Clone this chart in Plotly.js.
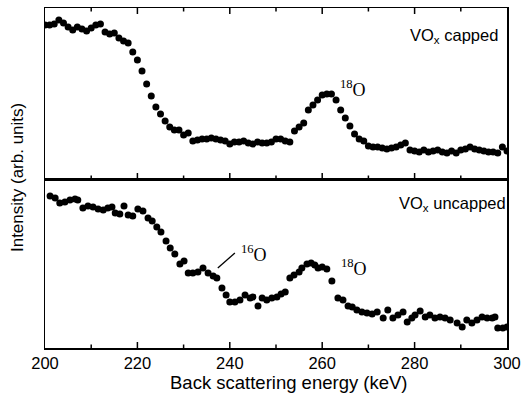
<!DOCTYPE html>
<html>
<head>
<meta charset="utf-8">
<script src="https://cdn.plot.ly/plotly-3.0.1.min.js"></script>
<style>html,body{margin:0;padding:0;background:#fff;}#chart{width:523px;height:409px;}</style>
</head>
<body>
<div id="chart"></div>
<script>
// Top panel: VOx capped
const energyCapped = [200,201,202,203,204,205,206,207,208,209,210,211,212,213,214,215,216,217,218,219,220,221,222,223,224,225,226,227,228,229,230,231,232,233,234,235,236,237,238,239,240,241,242,243,244,245,246,247,248,249,250,251,252,253,254,255,256,257,258,259,260,261,262,263,264,265,266,267,268,269,270,271,272,273,274,275,276,277,278,279,280,281,282,283,284,285,286,287,288,289,290,291,292,293,294,295,296,297,298,299,300];
const intensityCapped = [154,154,155,159,156,152,149,152,150,148,151,154,155,147,145,146,141,138,136,127,119,108,95,83,72,65,58,52,49,49,44,46,38,39,40,40,41,40,39,38,35,37,37,38,36,35,37,36,36,37,40,40,38,37,48,52,56,69,74,79,84,85,85,79,69,61,53,45,40,38,33,32,32,31,30,31,32,34,36,29,28,27,29,27,28,29,27,26,28,26,29,30,32,30,29,28,27,27,26,32,28];

// Bottom panel: VOx uncapped
const energyUncapped = [201.1,202.2,203.2,204.3,205.4,206.5,207.1,208.2,209.3,210.4,211.5,212.6,213.6,214.5,215.2,216.2,217.1,218,219,220.1,221.2,222.3,223.2,224.2,225.1,226.2,227.1,228.1,229.2,230.1,231,232,233.1,234.2,235.3,236.4,237.2,238.3,239.2,240,241.1,242.2,243.3,244.4,245,246.1,247,248,249.1,250.2,251.1,252,253,253.9,255,255.6,256.7,257.6,258.4,259.1,260,261,262.1,263.4,264.5,265.6,266.5,267.5,268.6,269.7,270.8,271.9,273.2,274.2,275.3,276.4,277.5,278.4,279.4,280.1,281.2,282.3,283.3,284.4,285.5,286.6,287.7,289.2,290.3,291.3,292.4,293.5,294.6,295.7,296.8,297.4,298,299.1,300];
const intensityUncapped = [152,150,145,146,148,149,148,140,142,141,139,138,140,141,135,134,142,133,132,139,137,130,127,121,116,107,100,94,84,87,75,75,76,80,75,72,70,60,53,46,46,48,53,50,51,42,50,48,50,51,54,56,70,73,76,80,84,85,83,80,81,79,67,50,48,42,41,38,36,35,34,36,30,38,30,33,36,26,30,33,37,31,33,30,31,30,28,25,21,28,25,28,31,30,30,31,20,20,21];

// Tick positions
const majorTicks = [220,240,260,280];
const minorTicks = [210,230,250,270,290];
const tickLabelVals = [200,220,240,260,280,300];
const tickLabelText = ['200','220','240','260','280','300'];

const labels = {capped:'VO<sub>x</sub> capped', uncapped:'VO<sub>x</sub> uncapped', o18:'<sup>18</sup>O', o16:'<sup>16</sup>O',
  xTitle:'Back scattering energy (keV)', yTitle:'Intensity (arb. units)'};

const yMaxBottom = 169, yMaxTop = 171;

function markerStyle() { return {color:'#000', size:7, symbol:'circle'}; }
const data = [
  {x:energyUncapped, y:intensityUncapped, mode:'markers', type:'scatter', marker:markerStyle(), showlegend:false},
  {x:energyCapped, y:intensityCapped, xaxis:'x2', yaxis:'y2', mode:'markers', type:'scatter', marker:markerStyle(), showlegend:false}
];

const sans = 'Liberation Sans, Arial, sans-serif';
const serif = 'Liberation Serif, Times New Roman, serif';

// inside tick marks (each panel's y range spans its height in pixels, so lengths are in px)
const shapes = [];
function addTicks(vals, len) {
  vals.forEach(function(v) {
    const common = {type:'line', layer:'above', line:{color:'#000', width:1.5}};
    shapes.push(Object.assign({}, common, {xref:'x', yref:'y', x0:v, x1:v, y0:0, y1:len}));
    shapes.push(Object.assign({}, common, {xref:'x2', yref:'y2', x0:v, x1:v, y0:0, y1:len}));
    shapes.push(Object.assign({}, common, {xref:'x2', yref:'y2', x0:v, x1:v, y0:yMaxTop, y1:yMaxTop - len}));
  });
}
addTicks(majorTicks, 6);
addTicks(minorTicks, 3.5);
shapes.push({type:'line', xref:'x', yref:'y', x0:237.4, y0:80, x1:241.1, y1:95, line:{color:'#000', width:1.3}});

const layout = {
  width:523, height:409,
  margin:{l:45, r:15.5, t:8, b:61, pad:0},
  font:{family:sans, color:'#000'},
  paper_bgcolor:'#fff', plot_bgcolor:'#fff',
  xaxis:{range:[200,300], showline:true, linecolor:'#000', linewidth:1.5, ticks:'', tickmode:'array', tickvals:tickLabelVals, ticktext:tickLabelText,
    mirror:true, showgrid:false, zeroline:false, tickfont:{size:16.5, family:sans, color:'#000'}},
  yaxis:{domain:[0,0.497], range:[0,yMaxBottom], showline:true, linecolor:'#000', linewidth:1.5, mirror:true, ticks:'', showticklabels:false, showgrid:false, zeroline:false},
  xaxis2:{anchor:'y2', range:[200,300], showline:true, linecolor:'#000', linewidth:1.5, ticks:'', mirror:true, showgrid:false, zeroline:false, showticklabels:false},
  yaxis2:{domain:[0.497,1], anchor:'x2', range:[0,yMaxTop], showline:true, linecolor:'#000', linewidth:1.5, mirror:true, ticks:'', showticklabels:false, showgrid:false, zeroline:false},
  annotations:[
    {xref:'paper', yref:'paper', x:0.529, y:-0.1, text:labels.xTitle, showarrow:false, xanchor:'center', yanchor:'middle', font:{size:18.5, family:sans, color:'#000'}},
    {xref:'paper', yref:'paper', x:-0.0605, y:0.5, text:labels.yTitle, textangle:-90, showarrow:false, xanchor:'center', yanchor:'middle', font:{size:17, family:sans, color:'#000'}},
    {xref:'x2', yref:'y2', x:288.5, y:143, text:labels.capped, showarrow:false, xanchor:'center', yanchor:'middle', font:{size:16.5, family:sans, color:'#000'}},
    {xref:'x', yref:'y', x:288.3, y:144, text:labels.uncapped, showarrow:false, xanchor:'center', yanchor:'middle', font:{size:16.5, family:sans, color:'#000'}},
    {xref:'x2', yref:'y2', x:266.7, y:91, text:labels.o18, showarrow:false, xanchor:'center', yanchor:'middle', font:{size:18, family:serif, color:'#000'}},
    {xref:'x', yref:'y', x:266.9, y:81, text:labels.o18, showarrow:false, xanchor:'center', yanchor:'middle', font:{size:18, family:serif, color:'#000'}},
    {xref:'x', yref:'y', x:245.2, y:95, text:labels.o16, showarrow:false, xanchor:'center', yanchor:'middle', font:{size:18, family:serif, color:'#000'}}
  ],
  shapes:shapes
};

Plotly.newPlot('chart', data, layout, {staticPlot:true, displayModeBar:false});
</script>
</body>
</html>
